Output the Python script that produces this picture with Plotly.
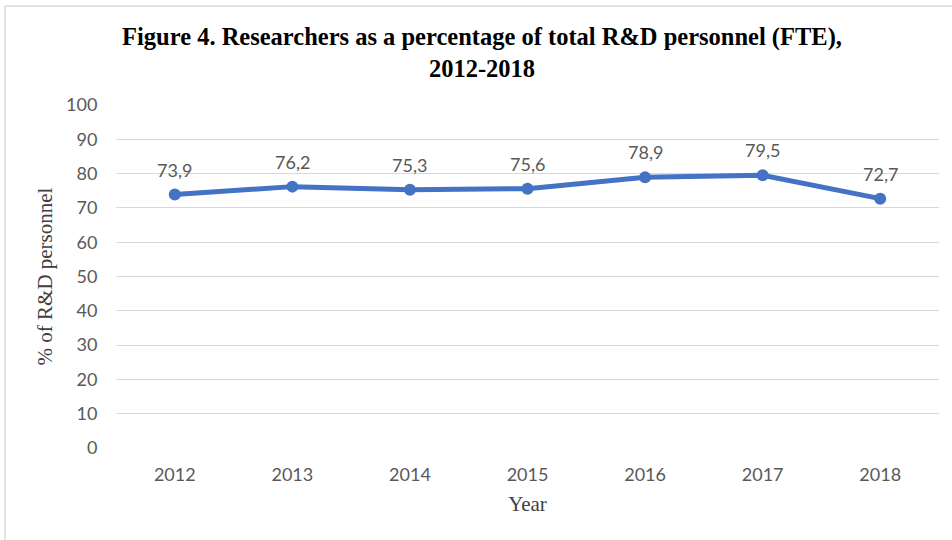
import plotly.graph_objects as go

years = ["2012", "2013", "2014", "2015", "2016", "2017", "2018"]
researchers_pct = [73.9, 76.2, 75.3, 75.6, 78.9, 79.5, 72.7]
y_ticks = [0, 10, 20, 30, 40, 50, 60, 70, 80, 90, 100]

W, H = 952, 540
L, R, T, B = 116, 13, 105, 92
pw, ph = W - L - R, H - T - B

SANS = "Lato, Open Sans, sans-serif"
SERIF = "Liberation Serif, Times New Roman, serif"

def px_x(x):
    return (x - L) / pw

def px_y(y):
    return (H - B - y) / ph

fig = go.Figure()
fig.add_trace(go.Scatter(
    x=years, y=researchers_pct,
    mode="lines+markers",
    line=dict(color="#4472C4", width=5),
    marker=dict(color="#4472C4", size=12),
    showlegend=False,
))

annotations = [
    dict(x=i, y=v, xref="x", yref="y", text=f"{v:.1f}".replace(".", ","),
         showarrow=False, yshift=25, yanchor="middle",
         font=dict(family=SANS, size=18, color="#595959"))
    for i, v in enumerate(researchers_pct)
]

fig.update_layout(
    width=W, height=H,
    margin=dict(l=L, r=R, t=T, b=B),
    paper_bgcolor="white", plot_bgcolor="white",
    separators=", ",
    title=dict(
        text="<b>Figure 4. Researchers as a percentage of total R&D personnel (FTE),<br>2012-2018</b>",
        x=482 / W, xanchor="center",
        y=1 - 45 / H, yanchor="middle",
        font=dict(family=SERIF, size=24.5, color="black"),
    ),
    xaxis=dict(
        type="category", range=[-0.5, 6.5],
        showgrid=False, zeroline=False, showline=False,
        ticks="outside", ticklen=10, tickcolor="rgba(0,0,0,0)",
        tickfont=dict(family=SANS, size=18, color="#595959"),
        title=dict(text="Year", standoff=12,
                   font=dict(family=SERIF, size=21, color="#404040")),
    ),
    yaxis=dict(
        range=[0, 100], tickvals=y_ticks,
        showgrid=True, gridcolor="#d9d9d9", gridwidth=1,
        zeroline=False, showline=False,
        ticks="outside", ticklen=14, tickcolor="rgba(0,0,0,0)",
        tickfont=dict(family=SANS, size=18, color="#595959"),
        title=dict(text="% of R&D personnel", standoff=7,
                   font=dict(family=SERIF, size=21, color="#404040")),
    ),
    annotations=annotations,
    shapes=[
        dict(type="line", xref="paper", yref="paper",
             x0=px_x(5), x1=px_x(W + 20), y0=px_y(6), y1=px_y(6),
             line=dict(color="#d9d9d9", width=1.5)),
        dict(type="line", xref="paper", yref="paper",
             x0=px_x(5), x1=px_x(5), y0=px_y(6), y1=px_y(H + 20),
             line=dict(color="#d9d9d9", width=1.5)),
    ],
)

fig.write_html("out.html")
